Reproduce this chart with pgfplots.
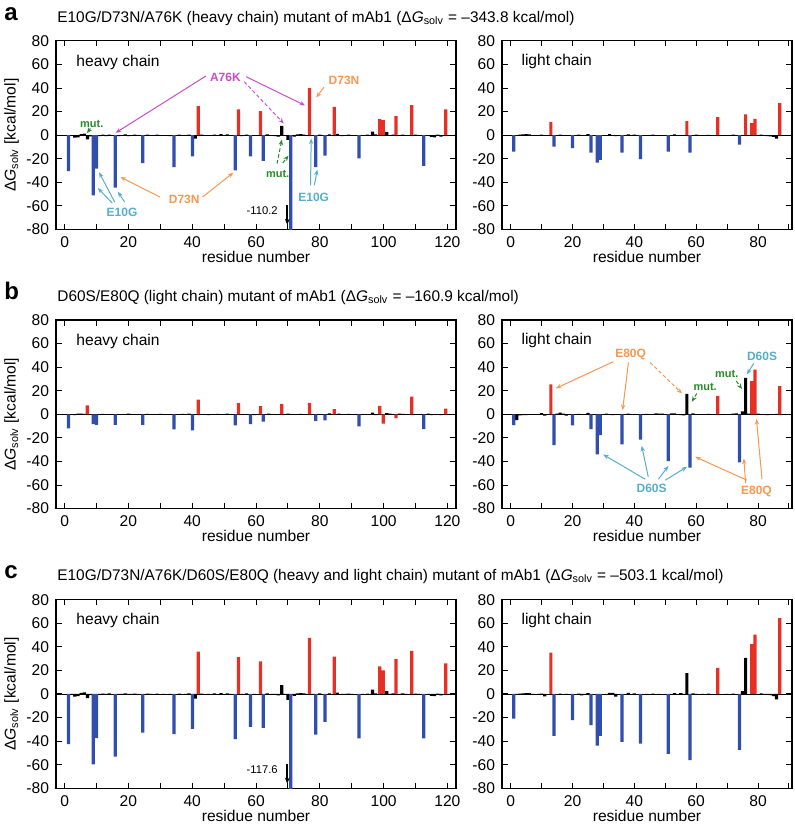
\documentclass[border=0pt]{standalone}
\usepackage{fontspec}
\setmainfont{Liberation Sans}
\usepackage{pgfplots}
\pgfplotsset{compat=1.18}
\usetikzlibrary{arrows.meta}

\definecolor{barred}{RGB}{230,48,38}
\definecolor{barblue}{RGB}{48,78,176}
\definecolor{annor}{RGB}{248,150,82}
\definecolor{anncy}{RGB}{84,174,204}
\definecolor{annmg}{RGB}{200,78,200}
\definecolor{anngr}{RGB}{40,140,40}

\newcommand{\fs}{\fontsize{7.8}{9}\selectfont}
\newcommand{\fann}{\fontsize{6}{7}\selectfont\bfseries}
\newcommand{\fmut}{\fontsize{5.5}{6.5}\selectfont\bfseries}
\newcommand{\dG}{Δ\textit{G}\textsubscript{solv}}

\tikzset{
  ann/.style={-{Stealth[length=2.8pt,width=2.2pt]}, line width=0.5pt},
  annd/.style={ann, dash pattern=on 1.8pt off 1.2pt},
}

\pgfplotsset{
  mypanel/.style={
    scale only axis, height=94.3pt,
    ymin=-80, ymax=80,
    ytick={-80,-60,-40,-20,0,20,40,60,80},
    yticklabels={-80,-60,-40,-20,0,20,40,60,80},
    tick align=inside,
    major tick length=2.8pt, minor tick length=2.8pt,
    tick style={black, line width=0.5pt},
    axis line style={line width=0.6pt},
    tick label style={font=\fs},
    xlabel={residue number},
    xlabel style={font=\fs, at={(axis description cs:0.5,0)}, anchor=base, yshift=-16.4pt},
  },
  heavy/.style={mypanel, width=200pt, xmin=-2.7, xmax=122.7,
    xtick={0,20,...,120}, xticklabels={0,20,40,60,80,100,120},
    minor xtick={10,30,...,110},
    ylabel={\dG\ [kcal/mol]},
    ylabel style={font=\fs, at={(axis description cs:-0.111,0.5)}, anchor=center}},
  light/.style={mypanel, width=145pt, xmin=-2.8, xmax=91,
    xtick={0,20,...,80}, xticklabels={0,20,40,60,80},
    minor xtick={10,30,50,70,90}},
  bb/.style={ybar, bar width=1.6pt, bar shift=0pt, draw=none, fill=barblue},
  br/.style={ybar, bar width=1.6pt, bar shift=0pt, draw=none, fill=barred},
  bk/.style={ybar, bar width=1.6pt, bar shift=0pt, draw=none, fill=black},
}

\begin{document}
\begin{tikzpicture}
\path[use as bounding box] (0pt,0pt) rectangle (397pt,414.5pt);

% ---------- titles ----------
\node[inner sep=0pt, anchor=base west, font=\fontsize{12}{14}\selectfont\bfseries] at (2pt,404pt) {a};
\node[inner sep=0pt, anchor=base west, font=\fontsize{7.7}{9}\selectfont] at (28.5pt,403.2pt) {E10G/D73N/A76K (heavy chain) mutant of mAb1 (\dG{} = –343.8 kcal/mol)};
\node[inner sep=0pt, anchor=base west, font=\fontsize{12}{14}\selectfont\bfseries] at (2pt,264.5pt) {b};
\node[inner sep=0pt, anchor=base west, font=\fontsize{7.7}{9}\selectfont] at (28.5pt,263.7pt) {D60S/E80Q (light chain) mutant of mAb1 (\dG{} = –160.9 kcal/mol)};
\node[inner sep=0pt, anchor=base west, font=\fontsize{12}{14}\selectfont\bfseries] at (2pt,125pt) {c};
\node[inner sep=0pt, anchor=base west, font=\fontsize{7.7}{9}\selectfont] at (28.5pt,124.2pt) {E10G/D73N/A76K/D60S/E80Q (heavy and light chain) mutant of mAb1 (\dG{} = –503.1 kcal/mol)};

% ================= PANEL A heavy =================
\begin{axis}[heavy, at={(28pt,299.75pt)}, anchor=south west]
\draw[line width=0.4pt] (rel axis cs:0,0.5) -- (rel axis cs:1,0.5);
\addplot[bk] coordinates {(2.2,-0.6) (3.2,-2) (4.2,-1.8) (5.2,1) (6.2,1.3) (7.2,-3.5) (8.1,-1) (11,-0.8) (12,0.4) (13,-0.7) (14,0.5) (17,-0.8) (18,-0.5) (19,0.6) (20,-0.8) (21,-0.5) (22,0.4) (23,-0.6) (26,0.4) (27,-0.5) (29,0.4) (31,-0.4) (33,-0.8) (36,0.4) (38,-0.5) (39,0.5) (41,-3) (43,0.4) (45,-0.5) (47,0.5) (49,0.8) (51,0.6) (52,-0.4) (55.5,-0.7) (57,0.5) (59.5,-0.6) (63.5,0.6) (65,-0.5) (66,-0.8) (67,-1.2) (68.1,8) (69,-0.6) (70,-4) (72,-1.2) (73,0.6) (74,0.8) (75,0.5) (76,-0.4) (77.8,-0.6) (80,0.5) (83,0.6) (85.5,1.2) (87,-0.8) (88,-0.5) (89,0.4) (90,-0.4) (93.5,-0.6) (95,0.4) (96.5,3) (97.5,0.6) (101,2.5) (102,-0.6) (103,0.5) (105,-0.6) (106,0.5) (107,-0.5) (110,0.4) (111,-0.4) (114,-0.4) (115,-1.5) (116,-1.8) (117,0.4) (118,-1.2) (120.5,-0.5) (121.5,-0.4)};
\addplot[bb] coordinates {(1.2,-30.4) (9,-51) (10,-28.4) (15.9,-44.5) (24.5,-23.8) (34.3,-27) (40.1,-17.9) (53.5,-29.8) (58.3,-17.9) (62.3,-21.8) (70.9,-110.2) (78.7,-27) (81.6,-17.3) (92.3,-19.6) (112.6,-26.1)};
\addplot[br] coordinates {(41.9,24.7) (54.5,21.8) (61.4,20.4) (76.8,40) (84.5,24.1) (98.8,13.6) (99.9,12.8) (103.9,16.2) (108.8,25.5) (119.5,21.8)};
\node[inner sep=0pt, anchor=west, font=\fs] at (rel axis cs:0.05,0.888) {heavy chain};
% annotations
\node[text=anngr, font=\fmut] at (axis cs:8.5,9.4) {mut.};
\draw[annd, anngr] (axis cs:8.1,5.7) -- (axis cs:7.0,1.7);
\node[text=annmg, font=\fann] at (axis cs:50.4,48.8) {A76K};
\draw[ann, annmg] (axis cs:44.3,50.2) -- (axis cs:16,2);
\draw[ann, annmg] (axis cs:56.9,49.6) -- (axis cs:75.4,25.2);
\draw[annd, annmg] (axis cs:56.3,45.4) -- (axis cs:68.7,9.9);
\node[text=annor, font=\fann] at (axis cs:87.6,46.8) {D73N};
\draw[ann, annor] (axis cs:81.3,40.6) -- (axis cs:78.9,32);
\node[text=annor, font=\fann] at (axis cs:37.5,-54.8) {D73N};
\draw[ann, annor] (axis cs:29.9,-52.5) -- (axis cs:17.5,-35.5);
\draw[ann, annor] (axis cs:43.2,-52.5) -- (axis cs:52.9,-31.8);
\node[text=anncy, font=\fann] at (axis cs:18,-65.5) {E10G};
\draw[ann, anncy] (axis cs:15.7,-56.7) -- (axis cs:10.8,-31.5);
\draw[ann, anncy] (axis cs:14.9,-57.6) -- (axis cs:10.4,-44.8);
\draw[ann, anncy] (axis cs:18.8,-56.7) -- (axis cs:16.7,-47.9);
\node[text=anngr, font=\fmut] at (axis cs:66.8,-32.6) {mut.};
\draw[annd, anngr] (axis cs:66.6,-24.1) -- (axis cs:68.1,-3.7);
\draw[annd, anngr] (axis cs:68.4,-23.5) -- (axis cs:70.2,-17.3);
\node[text=anncy, font=\fann] at (axis cs:78.1,-52.5) {E10G};
\draw[ann, anncy] (axis cs:77.1,-42.6) -- (axis cs:77.3,-2.8);
\draw[ann, anncy] (axis cs:78.3,-42.6) -- (axis cs:79.2,-29.2);
\node[anchor=east, font=\fontsize{5.6}{6.5}\selectfont] at (axis cs:69,-64.4) {-110.2};
\draw[-{Stealth[length=3pt,width=2.4pt]}, line width=0.8pt] (axis cs:69.8,-59.6) -- (axis cs:69.8,-76);
\end{axis}

% ================= PANEL A light =================
\begin{axis}[light, at={(251pt,299.75pt)}, anchor=south west]
\draw[line width=0.4pt] (rel axis cs:0,0.5) -- (rel axis cs:1,0.5);
\addplot[bk] coordinates {(2,-0.5) (3,0.4) (4,0.6) (5,0.8) (6,0.7) (7,-0.4) (9,-0.5) (10,0.4) (11,-0.6) (16,0.4) (18,-0.5) (22,0.4) (24,-0.4) (25,0.8) (31,-0.5) (32,0.9) (33,-0.6) (34,-0.8) (38,0.6) (40,0.5) (44,-0.5) (46,0.4) (48,-0.4) (53,0.7) (55,-0.5) (60,0.4) (62,-0.4) (64,0.3) (70,-0.4) (72,0.4) (81,0.5) (82,-0.4) (83,-0.8) (84,-1) (85,-1.5) (86,-3)};
\addplot[bb] coordinates {(1,-13.9) (14,-9.6) (20,-11) (26,-14.8) (28,-23.3) (29,-21) (36,-14.8) (42,-20.4) (51,-13.9) (58,-14.8) (74,-7.9)};
\addplot[br] coordinates {(13,11.3) (57,11.9) (67,15.3) (76,17.6) (78,10.2) (79,13.9) (87,27.2)};
\node[inner sep=0pt, anchor=west, font=\fs] at (rel axis cs:0.066,0.89) {light chain};
\end{axis}

% ================= PANEL B heavy =================
\begin{axis}[heavy, at={(28pt,160.2pt)}, anchor=south west]
\draw[line width=0.4pt] (rel axis cs:0,0.5) -- (rel axis cs:1,0.5);
\addplot[bk] coordinates {(2.2,-0.4) (3.2,-0.6) (4.2,0.5) (5.2,0.6) (6.2,0.4) (8.1,-0.5) (12,0.3) (14,-0.4) (18,-0.4) (20,0.6) (22,-0.3) (26,0.3) (28,-0.4) (30,0.3) (33,-0.5) (37,0.4) (39,0.5) (43,-0.5) (45,-0.8) (48,0.4) (51,0.5) (57,-0.4) (59.5,-0.8) (64,0.5) (66,-0.5) (70,0.6) (72,-0.5) (74,0.4) (80,-0.4) (83,0.8) (86,0.5) (89,0.3) (94,-0.4) (96.5,1.5) (97.5,-0.6) (101,1) (102,0.6) (105,0.5) (106,0.4) (110,-0.4) (114,0.5) (115,-0.6) (117,-0.4) (118,-0.6) (121,-0.4)};
\addplot[bb] coordinates {(1.2,-12) (9,-8.3) (10,-8.9) (15.9,-8.9) (24.5,-8.9) (34.3,-12.8) (40.1,-13.6) (53.5,-9.4) (58.3,-8.3) (62.3,-6.3) (78.7,-5.5) (81.6,-5.2) (92.3,-10.3) (112.6,-12.5)};
\addplot[br] coordinates {(7.1,7.5) (41.9,12.5) (54.5,9.4) (61.4,6.9) (68.1,8.9) (76.8,9.7) (84.5,4.4) (98.8,7.2) (99.9,-8) (103.9,-3.2) (108.8,15) (119.5,4.9)};
\node[inner sep=0pt, anchor=west, font=\fs] at (rel axis cs:0.05,0.888) {heavy chain};
\end{axis}

% ================= PANEL B light =================
\begin{axis}[light, at={(251pt,160.2pt)}, anchor=south west]
\draw[line width=0.4pt] (rel axis cs:0,0.5) -- (rel axis cs:1,0.5);
\addplot[bk] coordinates {(2,-5) (3,-1) (4,-0.8) (5,-0.6) (6,-0.5) (8,-0.5) (10,1) (11,-1.2) (12,-0.5) (15,0.6) (16,1.5) (17,0.5) (18,-1.2) (19,-0.5) (22,0.4) (24,-0.4) (25,1.2) (27,-0.5) (31,0.5) (33,-0.6) (34,-0.5) (38,0.5) (40,-0.4) (44,0.4) (46,-0.4) (47,0.7) (48,0.6) (49,0.5) (52,0.7) (53,0.8) (55,-0.6) (56,-1) (57,17.4) (59,0.8) (61,-0.4) (64,0.4) (70,-0.4) (72,0.5) (73,0.8) (75,2.4) (76,31) (77,0.5) (80,0.5) (81,-0.4) (83,-0.6) (84,-0.5) (85,-0.5) (86,0.4) (88,-0.4)};
\addplot[bb] coordinates {(1,-9.2) (14,-26.2) (20,-9.5) (26,-12.6) (28,-33.9) (29,-17.7) (36,-25.6) (42,-21.4) (51,-39.8) (58,-45.2) (74,-40.7)};
\addplot[br] coordinates {(13,25.4) (67,15.7) (78,28.2) (79,37.8) (87,23.9)};
\node[inner sep=0pt, anchor=west, font=\fs] at (rel axis cs:0.066,0.89) {light chain};
% annotations
\node[text=annor, font=\fann] at (axis cs:38.8,50.8) {E80Q};
\draw[ann, annor] (axis cs:33.2,44.6) -- (axis cs:14.6,22);
\draw[ann, annor] (axis cs:38.1,44) -- (axis cs:36.2,3.5);
\draw[annd, annor] (axis cs:45.1,44) -- (axis cs:55.4,17.7);
\node[text=anngr, font=\fmut] at (axis cs:62.9,22.8) {mut.};
\draw[annd, anngr] (axis cs:60.2,17.7) -- (axis cs:58.6,10.6);
\node[text=anngr, font=\fmut] at (axis cs:69.9,34.4) {mut.};
\draw[annd, anngr] (axis cs:73,28.2) -- (axis cs:74.8,21.4);
\node[text=anncy, font=\fann] at (axis cs:81.3,48.9) {D60S};
\draw[ann, anncy] (axis cs:78.6,43.2) -- (axis cs:76.4,33.9);
\node[text=anncy, font=\fann] at (axis cs:45.6,-63) {D60S};
\draw[ann, anncy] (axis cs:43.5,-55.1) -- (axis cs:29.9,-34.1);
\draw[ann, anncy] (axis cs:44.5,-53.1) -- (axis cs:42.4,-26.8);
\draw[ann, anncy] (axis cs:47.8,-55.1) -- (axis cs:51,-43.8);
\draw[ann, anncy] (axis cs:50,-55.9) -- (axis cs:57,-44.6);
\node[text=annor, font=\fann] at (axis cs:79.5,-65.3) {E80Q};
\draw[ann, annor] (axis cs:76.4,-55.9) -- (axis cs:59.7,-36.1);
\draw[ann, annor] (axis cs:76,-58.5) -- (axis cs:75.4,-37.5);
\draw[ann, annor] (axis cs:81.3,-55.1) -- (axis cs:79.5,-4.1);
\end{axis}

% ================= PANEL C heavy =================
\begin{axis}[heavy, at={(28pt,20.35pt)}, anchor=south west]
\draw[line width=0.4pt] (rel axis cs:0,0.5) -- (rel axis cs:1,0.5);
\addplot[bk] coordinates {(2.2,-0.6) (3.2,-2.2) (4.2,-1.8) (5.2,1) (6.2,1.3) (7.2,-3.5) (8.1,-1) (11,-0.8) (12,0.4) (13,-0.7) (14,0.5) (17,-0.8) (18,-0.5) (19,0.6) (20,-0.8) (21,-0.5) (22,0.4) (23,-0.6) (26,0.4) (27,-0.5) (29,0.4) (31,-0.4) (33,-0.8) (36,0.4) (38,-0.5) (39,0.5) (41,-4) (43,0.4) (45,-0.5) (47,0.5) (49,0.8) (51,0.6) (52,-0.4) (55.5,-0.7) (57,0.5) (59.5,-0.6) (63.5,0.6) (65,-0.5) (66,-0.8) (67,-1.2) (68.1,7.6) (69,-0.6) (70,-5) (72,-1.5) (73,0.6) (74,0.8) (75,0.5) (76,-0.4) (77.8,-0.6) (80,0.5) (83,0.6) (85.5,1.2) (87,-0.8) (88,-0.5) (89,0.4) (90,-0.4) (93.5,-0.6) (95,0.4) (96.5,3.7) (97.5,0.6) (101,2.5) (102,-0.6) (103,0.5) (105,-0.6) (106,0.5) (107,-0.5) (110,0.4) (111,-0.4) (114,-0.4) (115,-1.5) (116,-1.8) (117,0.4) (118,-1.2) (120.5,-0.5) (121.5,-0.4)};
\addplot[bb] coordinates {(1.2,-42.5) (9,-59.7) (10,-37.5) (15.9,-53.2) (24.5,-32.7) (34.3,-34.1) (40.1,-29.6) (53.5,-38.3) (58.3,-27.9) (62.3,-28.7) (70.9,-117.6) (78.7,-34.4) (81.6,-23.7) (92.3,-37.7) (112.6,-37.7)};
\addplot[br] coordinates {(41.9,36) (54.5,31.3) (61.4,27.6) (76.8,47.6) (84.5,31.8) (98.8,23.4) (99.9,20) (103.9,29.6) (108.8,36.6) (119.5,25.9)};
\node[inner sep=0pt, anchor=west, font=\fs] at (rel axis cs:0.05,0.888) {heavy chain};
\node[anchor=east, font=\fontsize{5.6}{6.5}\selectfont] at (axis cs:69,-64.4) {-117.6};
\draw[-{Stealth[length=3pt,width=2.4pt]}, line width=0.8pt] (axis cs:69.8,-59.6) -- (axis cs:69.8,-76);
\end{axis}

% ================= PANEL C light =================
\begin{axis}[light, at={(251pt,20.35pt)}, anchor=south west]
\draw[line width=0.4pt] (rel axis cs:0,0.5) -- (rel axis cs:1,0.5);
\addplot[bk] coordinates {(2,-0.5) (3,0.4) (4,0.6) (5,0.8) (6,0.7) (7,-0.4) (9,-0.5) (10,0.4) (11,-2) (16,0.4) (18,-0.5) (22,0.4) (23,-1.2) (24,-0.4) (25,0.8) (31,-0.5) (32,0.9) (33,1) (34,-2.2) (38,1) (40,0.5) (44,-0.5) (46,0.4) (48,-0.4) (53,0.7) (55,0.8) (56,-0.8) (57,17.7) (59,0.6) (60,-0.4) (62,-0.4) (64,0.3) (70,-0.4) (72,0.4) (75,2.4) (76,30.7) (81,0.5) (82,-0.4) (83,-0.8) (84,-1) (85,-1.8) (86,-4.5)};
\addplot[bb] coordinates {(1,-20.8) (14,-35.6) (20,-22.2) (26,-26.5) (28,-43.7) (29,-35.6) (36,-40.7) (42,-42.1) (51,-50.9) (58,-56.2) (74,-47.4)};
\addplot[br] coordinates {(13,35) (67,22.2) (78,42.3) (79,50.3) (87,64.4)};
\node[inner sep=0pt, anchor=west, font=\fs] at (rel axis cs:0.066,0.89) {light chain};
\end{axis}
\end{tikzpicture}
\end{document}
